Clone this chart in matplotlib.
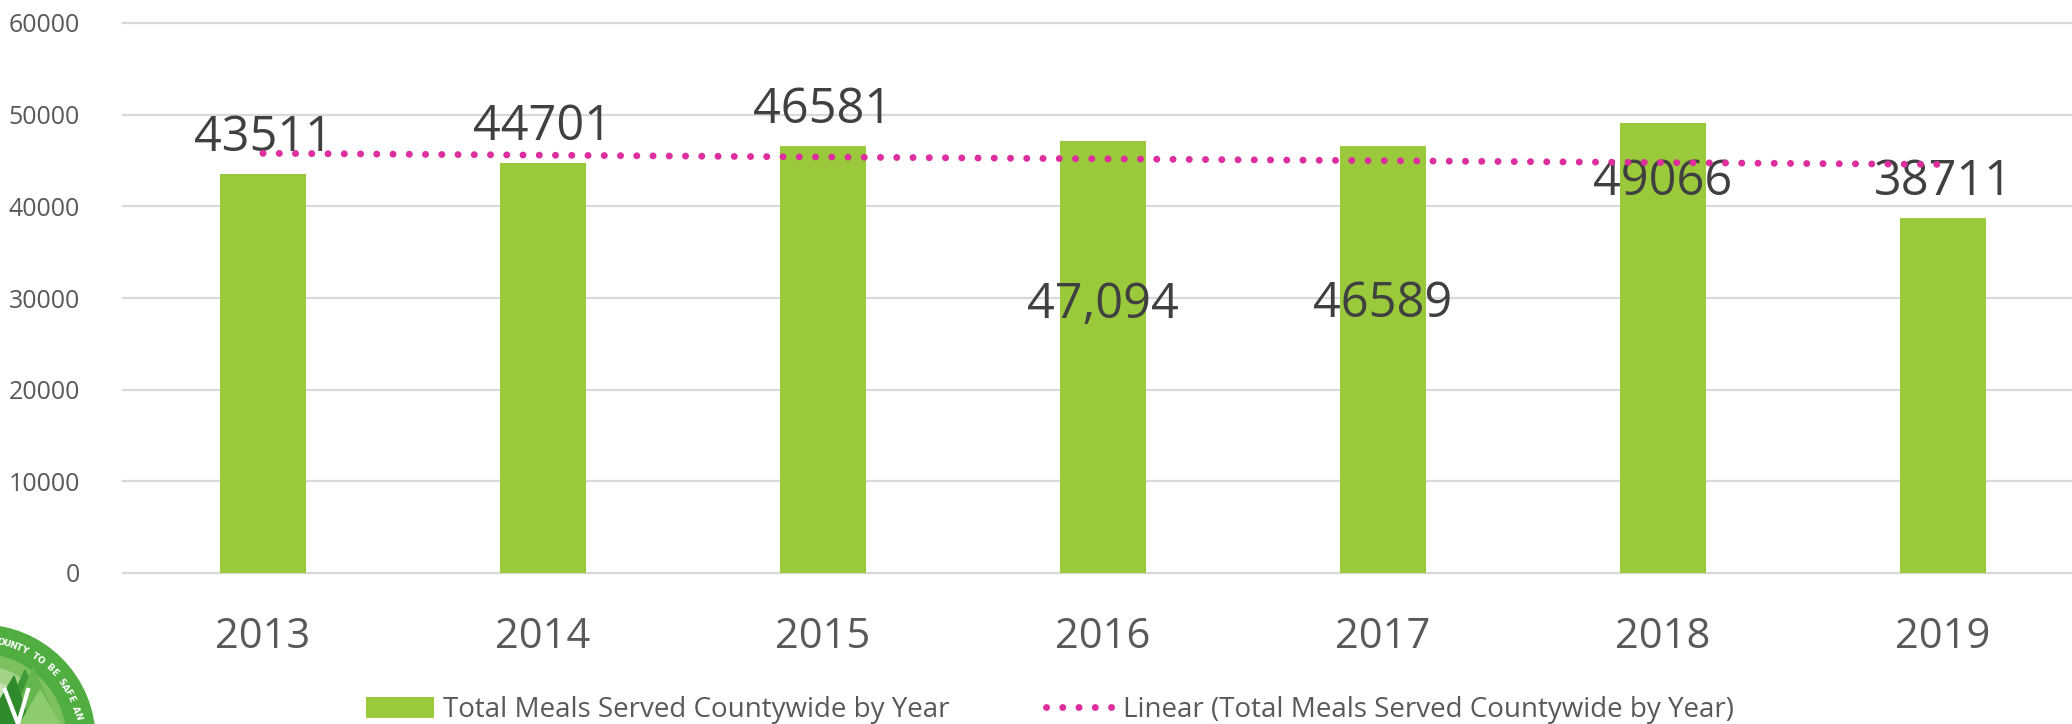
import numpy as np
import matplotlib
matplotlib.use("Agg")
import matplotlib.pyplot as plt
from matplotlib.patches import Patch, Circle, Polygon
from matplotlib.lines import Line2D

# ---- data ----
years = ["2013", "2014", "2015", "2016", "2017", "2018", "2019"]
meals = [43511, 44701, 46581, 47094, 46589, 49066, 38711]
value_labels = ["43511", "44701", "46581", "47,094", "46589", "49066", "38711"]
y_ticks = [0, 10000, 20000, 30000, 40000, 50000, 60000]
series_name = "Total Meals Served Countywide by Year"
trend_name = "Linear (Total Meals Served Countywide by Year)"

# ---- style ----
label_offsets_px = [36, 36, 36, -164, -158, -59, 36]   # manual label placement (pixels)
BAR = "#9ACA3C"
TREND = "#DD2E9E"
GRID = "#D9D9D9"
TICK = "#595959"
LABEL = "#404040"
FONT = "Open Sans"
plt.rcParams["font.family"] = [FONT, "DejaVu Sans"]

W, H = 2072, 724
fig = plt.figure(figsize=(W / 100, H / 100), dpi=100)
ax = fig.add_axes([123 / W, 151 / H, (W - 123) / W, 550 / H])

x = np.arange(len(years))
ax.bar(x, meals, width=0.31, color=BAR, zorder=2)

coef = np.polyfit(x, meals, 1)
trend = np.polyval(coef, x)
ax.plot(x, trend, color=TREND, lw=5, linestyle=(0, (0.01, 2.33)),
        dash_capstyle="round", zorder=4)

for xi, v, lab, dy in zip(x, meals, value_labels, label_offsets_px):
    ax.annotate(lab, xy=(xi, v), xytext=(0, dy), textcoords="offset pixels",
                ha="center", va="center", fontsize=35, color=LABEL, zorder=3)

ax.set_xlim(-0.5, -0.5 + (W - 123) / 280)
ax.set_ylim(0, 60000)
ax.set_xticks(x)
ax.set_xticklabels(years, fontsize=30, color=TICK)
ax.set_yticks(y_ticks)
ax.set_yticklabels([str(t) for t in y_ticks], fontsize=18, color=TICK)
ax.tick_params(axis="both", length=0)
ax.tick_params(axis="x", pad=31)
ax.tick_params(axis="y", pad=31)
ax.grid(axis="y", color=GRID, lw=1.6, zorder=0)
ax.set_axisbelow(True)
for s in ax.spines.values():
    s.set_visible(False)
for gl in ax.get_ygridlines():
    gl.set_clip_on(False)

handles = [Patch(facecolor=BAR, edgecolor="none"),
           Line2D([0], [0], color=TREND, lw=5, linestyle=(0, (0.01, 2.33)),
                  dash_capstyle="round")]
fig.legend(handles, [series_name, trend_name], loc="center",
           bbox_to_anchor=(1050 / W, 1 - 710 / H), ncol=2, frameon=False,
           fontsize=20, handlelength=2.45, handleheight=0.8,
           handletextpad=0.3, columnspacing=3.5, labelcolor=TICK)

# ---- logo (partially visible, bottom-left) ----
lax = fig.add_axes([0, 0, 124 / W, 124 / H])
lax.set_xlim(0, 124)
lax.set_ylim(724, 600)
lax.set_axis_off()
cx, cy = -20, 740
lax.add_patch(Circle((cx, cy), 115, color="#4FAE3F", zorder=1))
for r, c in [(86, "#7DC05E"), (74, "#A3D389"), (60, "#C4E2B2"), (44, "#DCEED1")]:
    lax.add_patch(Circle((cx, cy), r, color=c, zorder=2))
for pts, c in [([(0, 724), (25, 670), (50, 724)], "#3E9A36"),
               ([(10, 724), (33, 668), (58, 724)], "#66B64E"),
               ([(0, 700), (14, 676), (30, 724), (0, 724)], "#2F8A2C"),
               ([(20, 724), (40, 690), (60, 724)], "#8CCB6E")]:
    lax.add_patch(Polygon(pts, closed=True, color=c, zorder=3))
lax.plot([5, 18, 28], [690, 724, 690], color="white", lw=3, zorder=4)
ring = "OUNTY TO BE SAFE AN"
angs = np.linspace(78, 14, len(ring))
for ch, a in zip(ring, angs):
    t = np.deg2rad(a)
    lax.text(cx + 100 * np.cos(t), cy - 100 * np.sin(t), ch, color="white",
             fontsize=6.5, fontweight="bold", rotation=a - 90,
             ha="center", va="center", zorder=5, family="DejaVu Sans")

fig.savefig("out.png", dpi=100)
